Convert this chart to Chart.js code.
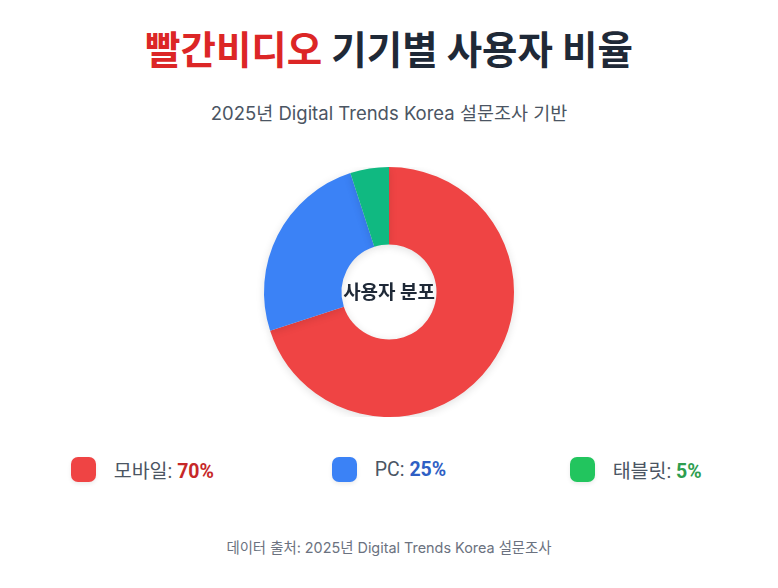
<!DOCTYPE html>
<html lang="ko">
<head>
<meta charset="utf-8">
<script src="https://cdn.jsdelivr.net/npm/chart.js@4"></script>
<style>
  html, body { margin: 0; padding: 0; background: #fff; }
  body { width: 778px; height: 588px; position: relative; overflow: hidden;
         font-family: "Inter", "Noto Sans CJK KR", sans-serif; }
  h1 { position: absolute; top: 23px; left: 0; width: 100%; margin: 0; text-align: center;
       font-size: 38.5px; font-weight: 700; color: #1f2937; line-height: 54px;
       font-family: "Inter", "Noto Sans CJK KR", sans-serif; }
  h1 .brand { color: #dc2626; }
  .sub { position: absolute; top: 99px; left: 0; width: 100%; text-align: center;
         font-size: 18.5px; color: #4b5563; line-height: 28px; }
  .chart-box { position: absolute; top: 167px; left: 0; width: 778px; height: 250px; }
  .legend { position: absolute; top: 455px; left: 19px; width: 740px; display: grid;
            grid-template-columns: repeat(3, 1fr); }
  .item { display: flex; align-items: center; justify-content: center; gap: 18px;
          font-size: 19.5px; color: #4b5563; font-family: "Roboto", "Noto Sans CJK KR", sans-serif; }
  .sw { width: 25px; height: 25px; border-radius: 7px; box-shadow: 0 2px 4px rgba(0,0,0,0.08); }
  .item b { font-weight: 700; }
  .foot { position: absolute; top: 537px; left: 0; width: 100%; text-align: center;
          font-size: 14.4px; color: #6b7280; line-height: 22px; }
</style>
</head>
<body>
<h1><span class="brand">빨간비디오</span> 기기별 사용자 비율</h1>
<div class="sub">2025년 Digital Trends Korea 설문조사 기반</div>
<div class="chart-box"><canvas id="share"></canvas></div>
<div class="legend" id="legend"></div>
<div class="foot">데이터 출처: 2025년 Digital Trends Korea 설문조사</div>
<script>
const devices = ['모바일', 'PC', '태블릿'];
const shares = [70, 25, 5];
const sliceColors = ['#ef4444', '#3b82f6', '#10b981'];
const swatchColors = ['#ef4444', '#3b82f6', '#22c55e'];
const valueColors = ['#c62828', '#2f5fc4', '#2e9e4f'];
const centerLabel = '사용자 분포';

// 가운데 글자
const centerText = {
  id: 'centerText',
  afterDraw(chart) {
    const meta = chart.getDatasetMeta(0);
    if (!meta.data.length) return;
    const { x, y } = meta.data[0];
    const ctx = chart.ctx;
    ctx.save();
    ctx.font = 'bold 19px "Noto Sans CJK KR", sans-serif';
    ctx.fillStyle = '#1f2937';
    ctx.textAlign = 'center';
    ctx.textBaseline = 'middle';
    ctx.fillText(centerLabel, x, y);
    ctx.restore();
  }
};

// 은은한 그림자
const softShadow = {
  id: 'softShadow',
  beforeDatasetsDraw(chart) {
    const ctx = chart.ctx;
    ctx.save();
    ctx.shadowColor = 'rgba(0,0,0,0.12)';
    ctx.shadowBlur = 8;
    ctx.shadowOffsetY = 2;
  },
  afterDatasetsDraw(chart) {
    chart.ctx.restore();
  }
};

new Chart(document.getElementById('share'), {
  type: 'doughnut',
  data: {
    labels: devices,
    datasets: [{
      data: shares,
      backgroundColor: sliceColors,
      borderWidth: 0
    }]
  },
  options: {
    responsive: true,
    maintainAspectRatio: false,
    animation: false,
    cutout: '38%',
    layout: { padding: 0 },
    plugins: {
      legend: { display: false },
      tooltip: { enabled: false }
    }
  },
  plugins: [softShadow, centerText]
});

const legend = document.getElementById('legend');
devices.forEach((name, i) => {
  const el = document.createElement('div');
  el.className = 'item';
  el.innerHTML = '<span class="sw" style="background:' + swatchColors[i] + '"></span>' +
    '<span>' + name + ': <b style="color:' + valueColors[i] + '">' + shares[i] + '%</b></span>';
  legend.appendChild(el);
});
</script>
</body>
</html>
